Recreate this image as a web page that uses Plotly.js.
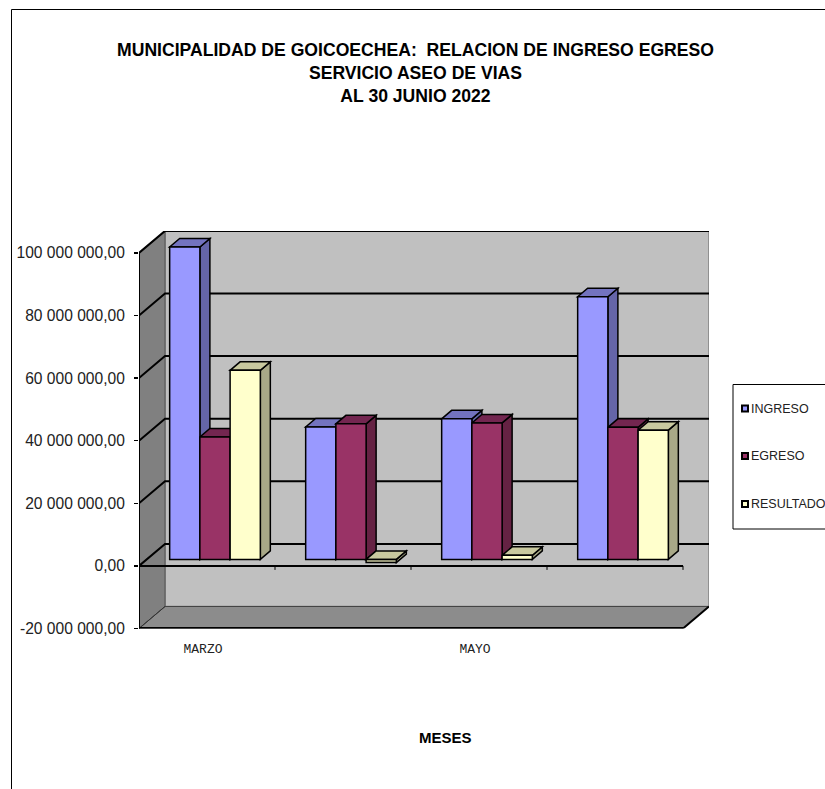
<!DOCTYPE html>
<html>
<head>
<meta charset="utf-8">
<script src="https://cdn.plot.ly/plotly-3.0.1.min.js"></script>
<style>html,body{margin:0;padding:0;background:#fff}</style>
</head>
<body>
<div id="chart" style="width:825px;height:789px"></div>
<script>
const categories = ['MARZO', 'ABRIL', 'MAYO', 'JUNIO'];
const shownCategories = ['MARZO', 'MAYO'];
const seriesNames = ['INGRESO', 'EGRESO', 'RESULTADO'];
const ingreso = [99800000, 42300000, 44900000, 83900000];
const egreso = [39100000, 43300000, 43600000, 42200000];
const resultado = [60400000, -1000000, 1300000, 41300000];
const seriesValues = [ingreso, egreso, resultado];
const seriesColors = ['#9999FF', '#993366', '#FFFFCC'];
const topColors = ['#7373BF', '#732650', '#C9C99F'];
const sideColors = ['#6565A8', '#652243', '#A8A887'];
const tickValues = [-20000000, 0, 20000000, 40000000, 60000000, 80000000, 100000000];
const tickLabels = ['-20 000 000,00', '0,00', '20 000 000,00', '40 000 000,00', '60 000 000,00', '80 000 000,00', '100 000 000,00'];

const W = 825, H = 789;
const L = 139, R = 709, T = 231, B = 628.5;
const pxPerCat = 136, pxPerVal = 3.13e-6;
const xMin = -0.5, xMax = xMin + (R - L) / pxPerCat;
const yMin = -20000000, yMax = yMin + (B - T) / pxPerVal;
const dx = v => v / pxPerCat, dy = v => v / pxPerVal;
const wallX = 26, wallY = 22;        // depth of the walls, px
const barX = 8, barY = 6.5;          // front plane of the bars, px
const depthX = 10, depthY = 8.5;     // depth of the bars, px
const barW = (1 - 1 / 3) / 3;

const poly = (pts, fill, width, color) => ({
  type: 'path', xref: 'x', yref: 'y', layer: 'below',
  path: pts.map((p, i) => (i ? 'L' : 'M') + p[0] + ',' + p[1]).join(' ') + (fill ? ' Z' : ''),
  fillcolor: fill || 'rgba(0,0,0,0)',
  line: {color: color || '#000', width: width}
});
const paperRect = (x0, y0, x1, y1, fill, w) => ({
  type: 'rect', xref: 'paper', yref: 'paper',
  x0: x0 / W, x1: x1 / W, y0: 1 - y0 / H, y1: 1 - y1 / H,
  fillcolor: fill, line: {color: '#000', width: w}
});

const xl = xMin, xr = xMin + categories.length;
const wx = dx(wallX), wy = dy(wallY);
const shapes = [];
// walls and floor
shapes.push(poly([[xl + wx, yMin + wy], [xl + wx, 100e6 + wy], [xr + wx, 100e6 + wy], [xr + wx, yMin + wy]], '#C0C0C0', 1.5, '#808080'));
shapes.push(poly([[xl, yMin], [xl, 100e6], [xl + wx, 100e6 + wy], [xl + wx, yMin + wy]], '#808080', 1, '#555'));
shapes.push(poly([[xl, yMin], [xr, yMin], [xr + wx, yMin + wy], [xl + wx, yMin + wy]], '#8C8C8C', 1, '#444'));
// gridlines on the walls
tickValues.filter(v => v >= 0).forEach(v => {
  shapes.push(poly([[xl, v], [xl + wx, v + wy], [xr + wx, v + wy]], null, 2, '#000'));
});
shapes.push(poly([[xl, yMin], [xl + wx, yMin + wy]], null, 1, '#333'));
shapes.push(poly([[xr, yMin], [xr + wx, yMin + wy]], null, 2, '#000'));
// front axes
shapes.push(poly([[xl, yMin], [xr, yMin]], null, 3, '#000'));
shapes.push(poly([[xl, yMin], [xl, 100e6]], null, 2, '#000'));
shapes.push(poly([[xl, 0], [xr, 0]], null, 2, '#000'));
categories.forEach((c, i) => {
  shapes.push(poly([[xl + i + 1, 0], [xl + i + 1, -dy(4)]], null, 1, '#000'));
});
// depth faces of the bars
const fx = dx(barX), fy = dy(barY), ddx = dx(depthX), ddy = dy(depthY);
seriesValues.forEach((vals, s) => {
  vals.forEach((v, i) => {
    const a = i + fx - 1.5 * barW + s * barW, b = a + barW;
    const hi = Math.max(v, 0) + fy, lo = Math.min(v, 0) + fy;
    shapes.push(poly([[b, lo], [b, hi], [b + ddx, hi + ddy], [b + ddx, lo + ddy]], sideColors[s], 1.5));
    shapes.push(poly([[a, hi], [b, hi], [b + ddx, hi + ddy], [a + ddx, hi + ddy]], topColors[s], 1.5));
  });
});
// chart frame
shapes.push({type: 'line', xref: 'paper', yref: 'paper', x0: 11.5 / W, x1: 11.5 / W, y0: 0, y1: 1 - 9.5 / H, line: {color: '#000', width: 1}});
shapes.push({type: 'line', xref: 'paper', yref: 'paper', x0: 11.5 / W, x1: 1, y0: 1 - 9.5 / H, y1: 1 - 9.5 / H, line: {color: '#000', width: 1}});
// legend
shapes.push(paperRect(733, 384.5, 830, 529, '#FFFFFF', 1));
const legendY = [408.5, 456, 504];
const annotations = [];
seriesNames.forEach((n, s) => {
  shapes.push(paperRect(742, legendY[s] - 3, 748, legendY[s] + 3, seriesColors[s], 2));
  annotations.push({
    xref: 'paper', yref: 'paper', x: 749.5 / W, y: 1 - legendY[s] / H, xanchor: 'left', yanchor: 'middle',
    text: n, showarrow: false, borderpad: 0,
    font: {family: 'Liberation Sans, Arial, sans-serif', size: 12.5, color: '#222'}
  });
});
annotations.push({
  xref: 'paper', yref: 'paper', x: 445.5 / W, y: 1 - 737.5 / H, xanchor: 'center', yanchor: 'middle',
  text: '<b>MESES</b>', showarrow: false,
  font: {family: 'Liberation Sans, Arial, sans-serif', size: 15, color: '#000'}
});

// a bar below zero shows its shaded face instead of the plain series colour
const traces = seriesNames.map((n, s) => ({
  type: 'bar', name: n, x: categories, y: seriesValues[s], xaxis: 'x2', yaxis: 'y2',
  marker: {color: seriesValues[s].map(v => v < 0 ? topColors[s] : seriesColors[s]), line: {color: '#000', width: 1.5}}
}));
// an invisible trace keeps the visible front axes alive
traces.push({type: 'scatter', mode: 'none', x: categories, y: ingreso, xaxis: 'x', yaxis: 'y', showlegend: false, hoverinfo: 'skip'});

const domX = [L / W, R / W], domY = [1 - B / H, 1 - T / H];
Plotly.newPlot('chart', traces, {
  width: W, height: H,
  margin: {l: 0, r: 0, t: 0, b: 0, pad: 0},
  paper_bgcolor: '#FFFFFF', plot_bgcolor: 'rgba(0,0,0,0)',
  showlegend: false,
  barmode: 'group', bargap: 1 / 3, bargroupgap: 0,
  title: {
    text: '<b>MUNICIPALIDAD DE GOICOECHEA:  RELACION DE INGRESO EGRESO<br>SERVICIO ASEO DE VIAS<br>AL 30 JUNIO 2022</b>',
    x: 415.5 / W, xanchor: 'center', y: 1 - 56 / H, yanchor: 'top', pad: {t: 0},
    font: {family: 'Liberation Sans, Arial, sans-serif', size: 17.6, color: '#000'}
  },
  xaxis: {
    domain: domX, range: [xMin, xMax], type: 'category', categoryorder: 'array', categoryarray: categories,
    tickmode: 'array', tickvals: shownCategories, ticktext: shownCategories,
    ticks: '', showgrid: false, zeroline: false, showline: false, ticklabelstandoff: 10, ticklabelshift: -4,
    tickfont: {family: 'Liberation Mono, monospace', size: 13, color: '#222'}, fixedrange: true
  },
  yaxis: {
    domain: domY, range: [yMin, yMax],
    tickmode: 'array', tickvals: tickValues, ticktext: tickLabels,
    ticks: 'outside', ticklen: 4, tickcolor: '#000', tickwidth: 1.5,
    showgrid: false, zeroline: false, showline: false, ticklabelstandoff: 6,
    tickfont: {family: 'Liberation Sans, Arial, sans-serif', size: 15.6, color: '#222'}, fixedrange: true
  },
  xaxis2: {
    domain: domX, overlaying: 'x', anchor: 'y2', visible: false, type: 'category', categoryorder: 'array', categoryarray: categories,
    range: [xMin - dx(barX), xMax - dx(barX)], fixedrange: true
  },
  yaxis2: {
    domain: domY, overlaying: 'y', anchor: 'x2', visible: false,
    range: [yMin - dy(barY), yMax - dy(barY)], fixedrange: true
  },
  shapes: shapes,
  annotations: annotations
}, {displayModeBar: false, staticPlot: true});
</script>
</body>
</html>
